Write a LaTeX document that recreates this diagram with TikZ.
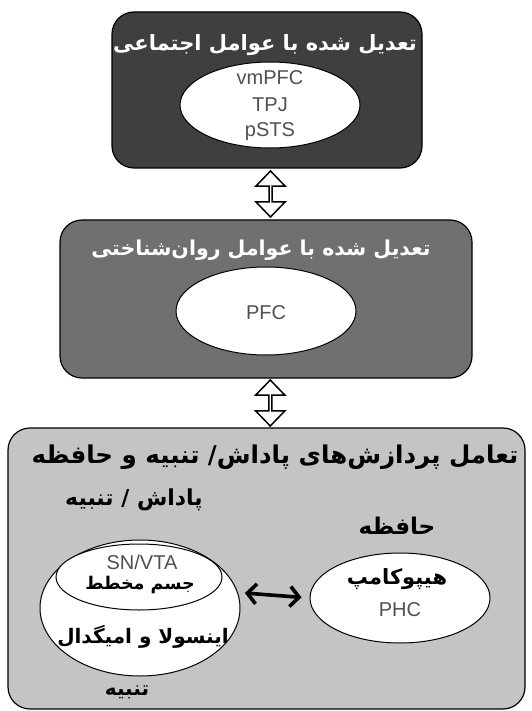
\documentclass[tikz,border=0pt]{standalone}
\usepackage{fontspec}
\setmainfont{Liberation Sans}
\newfontfamily\farsi[Script=Arabic]{DejaVu Sans}
\TeXXeTstate=1
\usetikzlibrary{shapes,shapes.arrows,arrows.meta,positioning}

\definecolor{darkpanel}{HTML}{3F3F3F}
\definecolor{midpanel}{HTML}{707070}
\definecolor{lightpanel}{HTML}{C4C4C4}
\definecolor{latgray}{HTML}{505050}

\newcommand{\fasize}[1]{\farsi\bfseries\fontsize{#1}{#1}\selectfont}

\begin{document}
\begin{tikzpicture}[x=1pt,y=-1pt]
        \edef\boxround{22pt}
        \tikzstyle{panel}=[draw,rounded corners=\boxround,line width=1.2pt,inner sep=0]
        \tikzstyle{area}=[draw,ellipse,fill=white,line width=1pt,inner sep=0]
        \tikzstyle{lat}=[text=latgray,inner sep=0,font=\fontsize{20}{22}\selectfont]
        \tikzstyle{fa}=[inner sep=0,font=\fasize{20}]
        \tikzstyle{hollow}=[draw,fill=white,line width=1.5pt,double arrow,shape border rotate=90,
                            inner sep=0,minimum height=46pt,minimum width=29pt,xshift=4pt,
                            double arrow head extend=6.5pt,double arrow tip angle=88]

        \useasboundingbox (0,0) rectangle (531,711);

        % social panel
        \node [panel,fill=darkpanel,minimum width=310pt,minimum height=156pt] (social) at (267,90) {};
        \node [fa,text=white,font=\fasize{21}] (social_title) at (265,45) {\beginR تعدیل شده با عوامل اجتماعی\endR};
        \node [area,minimum width=180pt,minimum height=86pt] (social_area) at (270,105) {};
        \foreach \t/\y in {vmPFC/78,TPJ/105,pSTS/132}
            \node [lat] (\t) at (270,\y) {\t};

        % psychological panel
        \node [panel,fill=midpanel,minimum width=412pt,minimum height=158pt] (psych) at (266,299) {};
        \node [fa,text=white,font=\fasize{20.5}] (psych_title) at (261,250) {\beginR تعدیل شده با عوامل روان‌شناختی\endR};
        \node [area,minimum width=180pt,minimum height=88pt] (psych_area) at (266,311) {};
        \node [lat] (PFC) at (266,313) {PFC};

        % reward / memory panel
        \node [panel,fill=lightpanel,minimum width=517pt,minimum height=281pt] (reward) at (266.5,568.5) {};
        \node [fa,font=\fasize{24.5}] (reward_title) at (275,457)
            {\beginR تعامل پردازش‌های پاداش/ تنبیه و حافظه\endR};
        \node [fa,font=\fasize{22}] (rp_label) at (134,500) {\beginR پاداش / تنبیه\endR};
        \node [fa,font=\fasize{23}] (mem_label) at (397,526) {\beginR حافظه\endR};

        \node [area,minimum width=200pt,minimum height=136pt] (outer) at (140,608) {};
        \node [area,minimum width=166pt,minimum height=66pt] (striatum) at (139,577) {};
        \node [lat] (snvta) at (142,562) {SN/VTA};
        \node [fa,font=\fasize{17.5}] (striatum_text) at (140,585) {\beginR جسم مخطط\endR};
        \node [fa] (insula_text) at (143,637) {\beginR اینسولا و امیگدال\endR};
        \node [fa] (punish_label) at (127,692) {\beginR تنبیه\endR};

        \node [area,minimum width=180pt,minimum height=90pt] (hippo) at (400,598) {};
        \node [fa,font=\fasize{21}] (hippo_text) at (397,579) {\beginR هیپوکامپ\endR};
        \node [lat] (PHC) at (400,610) {PHC};

        % links
        \foreach \a/\b in {social/psych,psych/reward}
            \path (\a.south) -- (\b.north) node [midway,hollow] (\a_\b) {};
        \draw [{Straight Barb[length=9pt,width=20pt]}-{Straight Barb[length=9pt,width=20pt]},
               line width=3.6pt,shorten <=7pt,shorten >=8pt] (outer.9) -- (hippo.west);   % reward <-> memory
\end{tikzpicture}
\end{document}
